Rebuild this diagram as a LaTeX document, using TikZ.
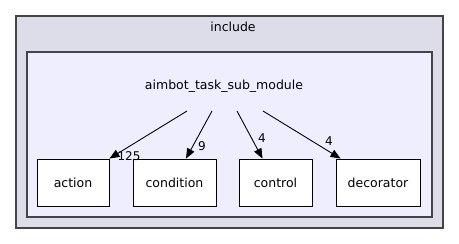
\documentclass[tikz,border=0pt]{standalone}
\usepackage{fontspec}
\setmainfont{DejaVu Sans}
\usetikzlibrary{arrows.meta}

\definecolor{outerfill}{HTML}{DDDDEA}
\definecolor{innerfill}{HTML}{EEEEFF}
\definecolor{frame}{HTML}{444444}

\tikzset{
    dirbox/.style={draw=black, fill=white, line width=0.9pt, inner sep=0pt},
    dep/.style={-{Triangle[length=10pt,width=8pt]}, line width=0.9pt},
    count/.style={font=\fontsize{12}{14}\selectfont, inner sep=0pt},
}

\begin{document}
\begin{tikzpicture}[x=1pt, y=-1pt, font=\fontsize{12.5}{15}\selectfont]
    \useasboundingbox (0,0) rectangle (459,244);

    % Clusters
    \draw[frame, fill=outerfill, line width=1.4pt] (16,16) rectangle (443,228);
    \node (incl) at (233,27) {include};
    \draw[frame, fill=innerfill, line width=1.4pt] (27,52) rectangle (432,217);
    \node (mod) at (224,86) {aimbot\_task\_sub\_module};

    % Sub directories
    \node[dirbox, minimum width=72pt, minimum height=47pt] (action) at (73,182.5) {action};
    \node[dirbox, minimum width=83pt, minimum height=47pt] (condition) at (174.5,182.5) {condition};
    \node[dirbox, minimum width=73pt, minimum height=47pt] (control) at (275.5,182.5) {control};
    \node[dirbox, minimum width=84pt, minimum height=47pt] (decorator) at (378,182.5) {decorator};

    % Dependency arrows
    \coordinate (s1) at (187,111);
    \coordinate (s2) at (212,111);
    \coordinate (s3) at (237,111);
    \coordinate (s4) at (263,111);
    \draw[dep] (s1) -- (action.north east);
    \draw[dep] (s2) -- ([xshift=11.5pt]condition.north);
    \draw[dep] (s3) -- ([xshift=-13pt]control.north);
    \draw[dep] (s4) -- ([xshift=5pt]decorator.north west);

    \node[count] (n1) at (129,156) {125};
    \node[count] (n2) at (202,146) {9};
    \node[count] (n3) at (262,138) {4};
    \node[count] (n4) at (329,141) {4};
\end{tikzpicture}
\end{document}
